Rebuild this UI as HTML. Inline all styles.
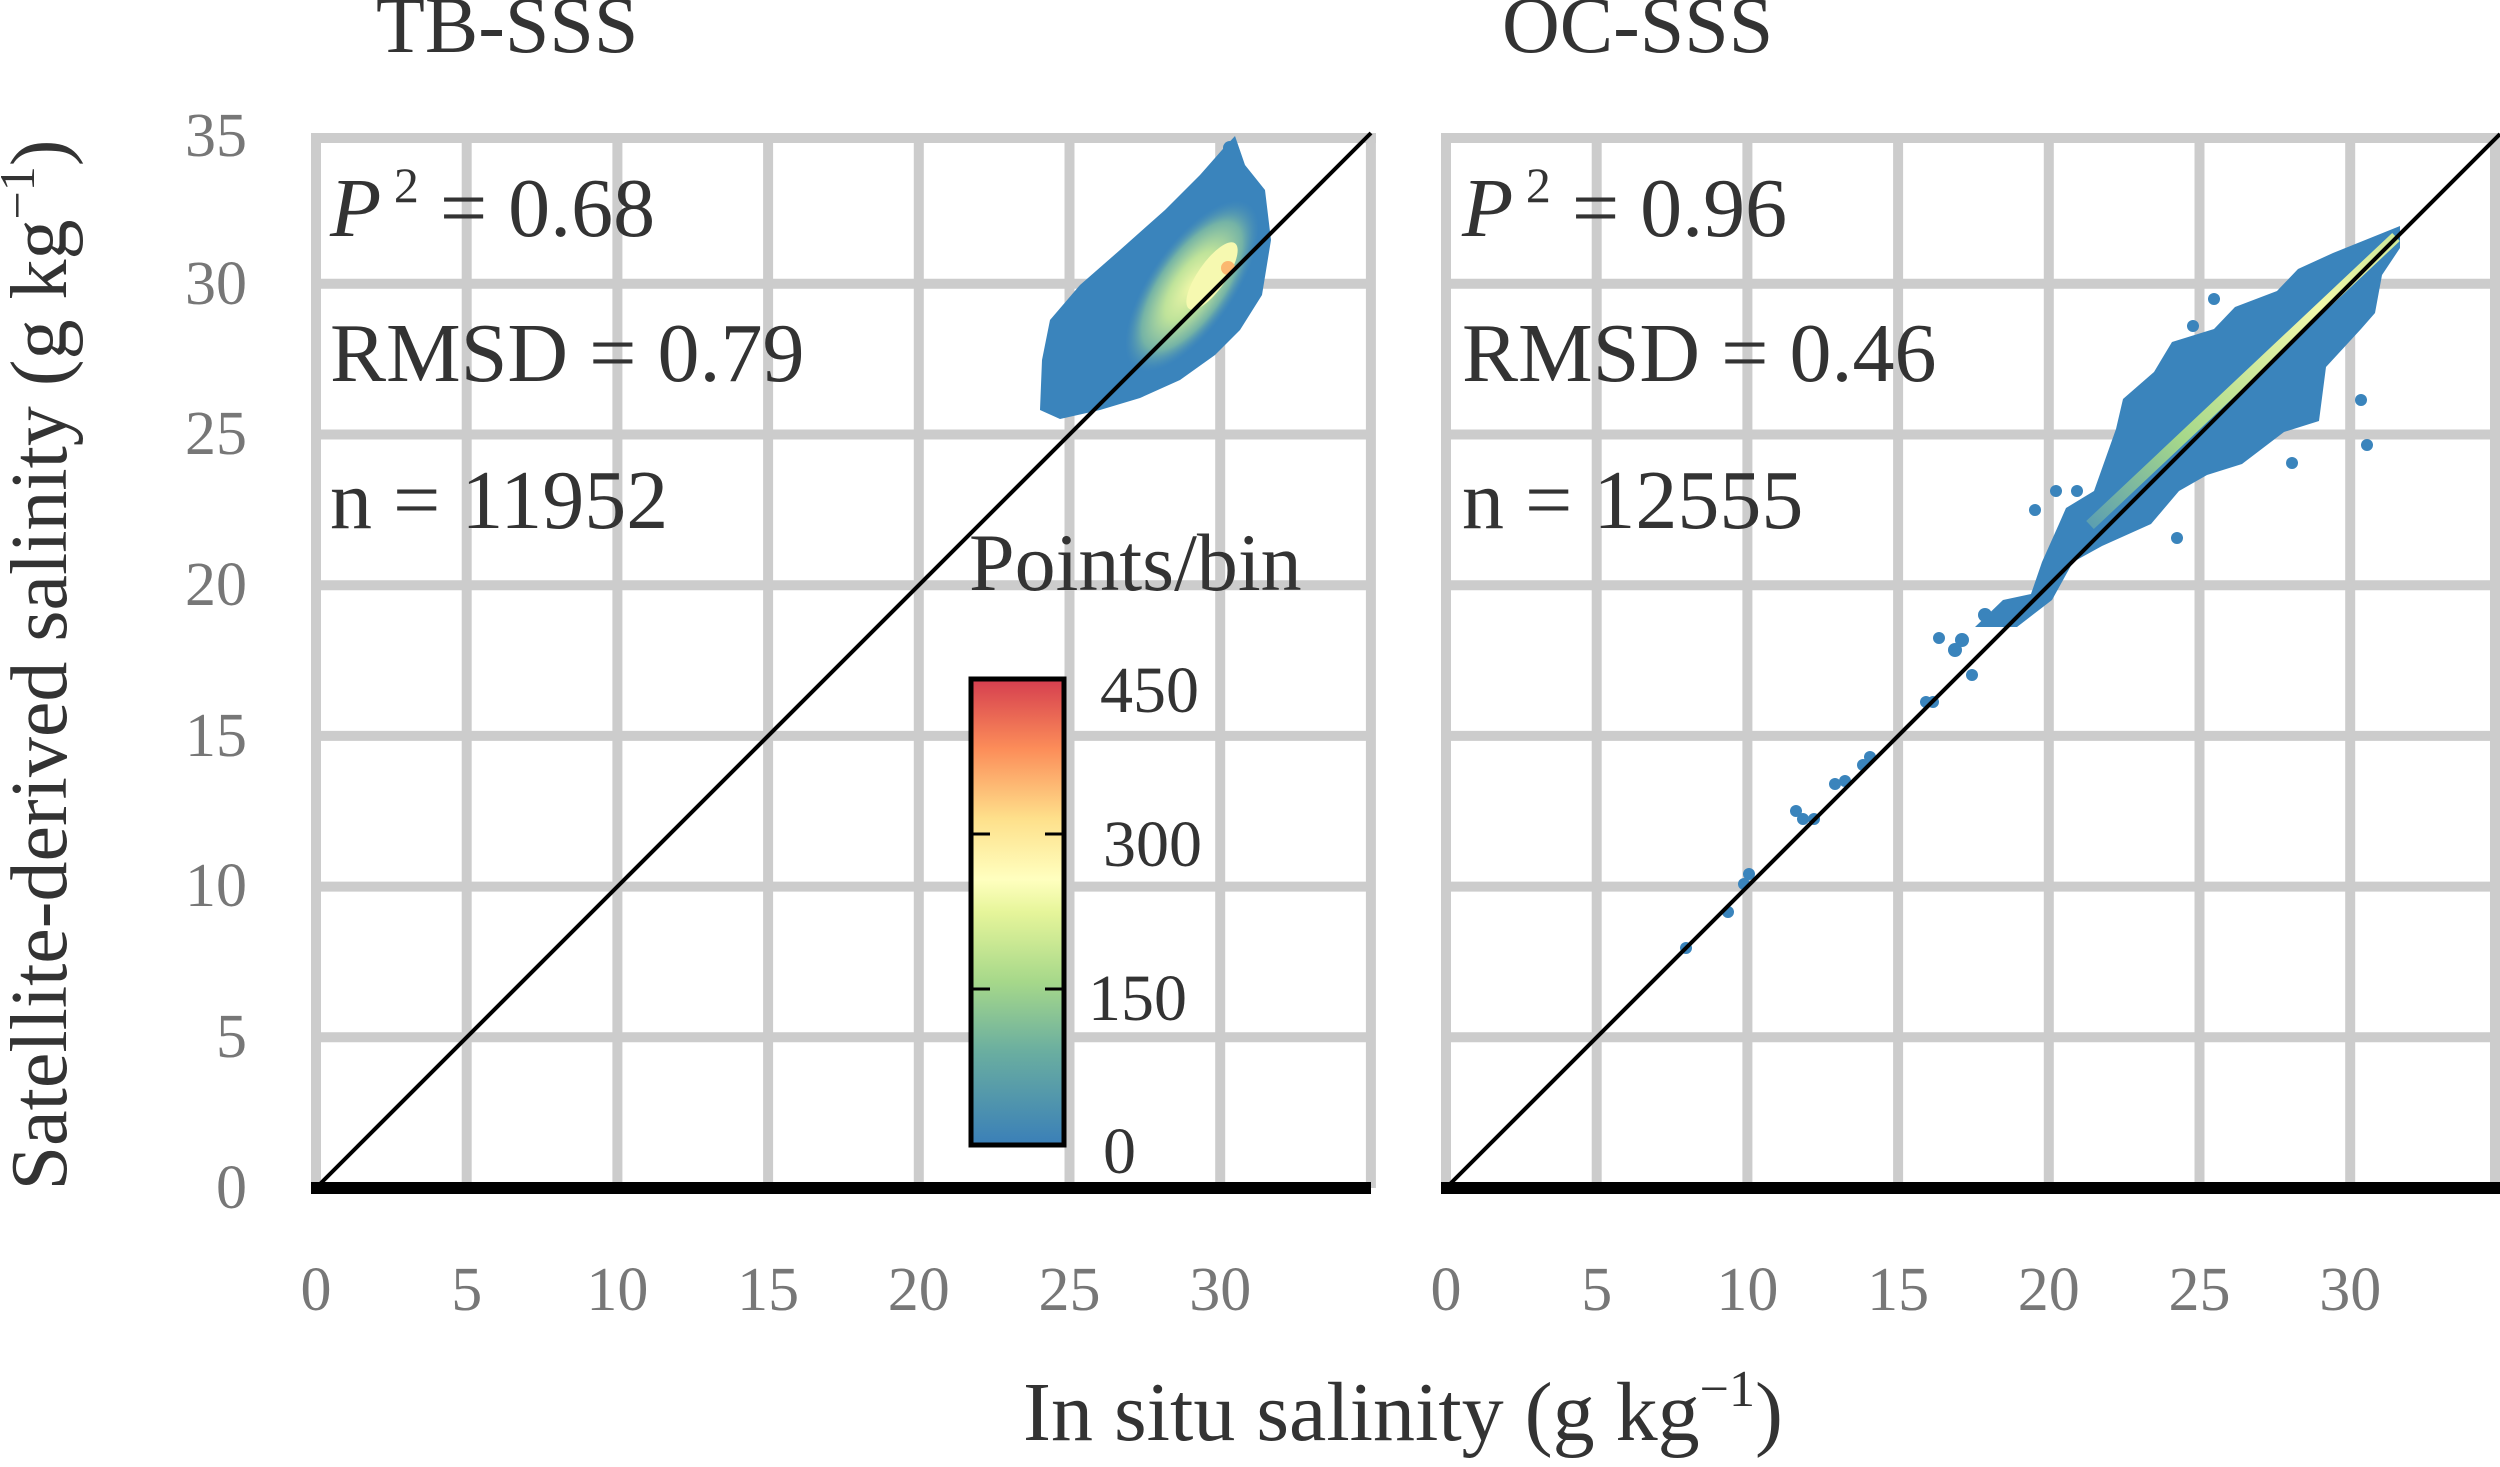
<!DOCTYPE html>
<html><head><meta charset="utf-8">
<style>
html,body{margin:0;padding:0;background:#fff;}
svg{display:block;}
text{font-family:"Liberation Serif",serif;}
</style></head>
<body>
<svg width="2500" height="1467" viewBox="0 0 2500 1467" xmlns="http://www.w3.org/2000/svg">
<defs>
<linearGradient id="cb" x1="0" y1="1" x2="0" y2="0">
<stop offset="0" stop-color="#3a7fb8"/>
<stop offset="0.2" stop-color="#6aaea0"/>
<stop offset="0.35" stop-color="#a6d88a"/>
<stop offset="0.5" stop-color="#e6f59a"/>
<stop offset="0.57" stop-color="#ffffbf"/>
<stop offset="0.7" stop-color="#fee08b"/>
<stop offset="0.85" stop-color="#fc8d59"/>
<stop offset="1" stop-color="#d53e4f"/>
</linearGradient>
<radialGradient id="lc" cx="0.5" cy="0.5" r="0.5">
<stop offset="0" stop-color="#f0f7a8"/>
<stop offset="0.4" stop-color="#bfe39a"/>
<stop offset="0.75" stop-color="#74b3a6"/>
<stop offset="1" stop-color="#4f93b5" stop-opacity="0"/>
</radialGradient>
<linearGradient id="rl" x1="0" y1="1" x2="1" y2="0">
<stop offset="0" stop-color="#5c9fb0"/>
<stop offset="0.3" stop-color="#a6d88a"/>
<stop offset="0.75" stop-color="#f2f8aa"/>
<stop offset="1" stop-color="#cfe89a"/>
</linearGradient>
</defs>
<g stroke="#ccc" stroke-width="10">
<line x1="316" y1="1188" x2="316" y2="133"/><line x1="466.7" y1="1188" x2="466.7" y2="133"/><line x1="617.4" y1="1188" x2="617.4" y2="133"/><line x1="768.1" y1="1188" x2="768.1" y2="133"/><line x1="918.8" y1="1188" x2="918.8" y2="133"/><line x1="1069.5" y1="1188" x2="1069.5" y2="133"/><line x1="1220.2" y1="1188" x2="1220.2" y2="133"/><line x1="1370.9" y1="1188" x2="1370.9" y2="133"/>
<line x1="311" y1="1037.3" x2="1371" y2="1037.3"/><line x1="311" y1="886.6" x2="1371" y2="886.6"/><line x1="311" y1="735.9" x2="1371" y2="735.9"/><line x1="311" y1="585.2" x2="1371" y2="585.2"/><line x1="311" y1="434.5" x2="1371" y2="434.5"/><line x1="311" y1="283.8" x2="1371" y2="283.8"/><line x1="311" y1="138" x2="1376" y2="138"/>
<line x1="1446" y1="1188" x2="1446" y2="133"/><line x1="1596.7" y1="1188" x2="1596.7" y2="133"/><line x1="1747.4" y1="1188" x2="1747.4" y2="133"/><line x1="1898.1" y1="1188" x2="1898.1" y2="133"/><line x1="2048.8" y1="1188" x2="2048.8" y2="133"/><line x1="2199.5" y1="1188" x2="2199.5" y2="133"/><line x1="2350.2" y1="1188" x2="2350.2" y2="133"/><line x1="2495" y1="1188" x2="2495" y2="133"/>
<line x1="1441" y1="1037.3" x2="2500" y2="1037.3"/><line x1="1441" y1="886.6" x2="2500" y2="886.6"/><line x1="1441" y1="735.9" x2="2500" y2="735.9"/><line x1="1441" y1="585.2" x2="2500" y2="585.2"/><line x1="1441" y1="434.5" x2="2500" y2="434.5"/><line x1="1441" y1="283.8" x2="2500" y2="283.8"/><line x1="1441" y1="138" x2="2500" y2="138"/>
</g>
<!-- left cluster -->
<path d="M1040,410 L1060,419 L1100,410 L1140,398 L1180,380 L1215,355 L1240,330 L1262,295 L1271,240 L1265,190 L1245,165 L1235,136 L1222,150 L1200,175 L1165,210 L1120,250 L1080,285 L1050,320 L1042,360 Z" fill="#3a84bc"/>
<circle cx="1230" cy="148" r="7" fill="#3a84bc"/>
<ellipse cx="1192" cy="286" rx="100" ry="42" transform="rotate(-55 1192 286)" fill="url(#lc)"/>
<ellipse cx="1212" cy="276" rx="40" ry="14" transform="rotate(-55 1212 276)" fill="#f6f9b0"/>
<circle cx="1228" cy="268" r="7" fill="#fbb870"/>
<!-- right cluster -->
<path d="M2400,226 L2333,253 L2298,269 L2277,291 L2235,307 L2214,329 L2172,342 L2154,372 L2123,399 L2116,429 L2094,491 L2066,508 L2059,524 L2042,562 L2031,594 L2003,600 L1975,627 L2017,627 L2052,600 L2073,562 L2102,546 L2151,524 L2179,491 L2207,475 L2242,464 L2284,432 L2319,421 L2326,367 L2361,329 L2375,313 L2382,275 L2400,248 Z" fill="#3a84bc"/>
<line x1="2090" y1="525" x2="2396" y2="237" stroke="url(#rl)" stroke-width="11"/>
<g fill="#3a84bc">
<circle cx="2035" cy="510" r="6"/><circle cx="2056" cy="491" r="6"/><circle cx="2077" cy="491" r="6"/><circle cx="2177" cy="538" r="6"/>
<circle cx="2214" cy="299" r="6"/><circle cx="2193" cy="326" r="6"/><circle cx="2361" cy="400" r="6"/><circle cx="2367" cy="445" r="6"/><circle cx="2292" cy="463" r="6"/>
<circle cx="1939" cy="638" r="6"/><circle cx="1972" cy="675" r="6"/><circle cx="1926" cy="702" r="6"/><circle cx="1933" cy="702" r="6"/>
<circle cx="1870" cy="757" r="6"/><circle cx="1863" cy="765" r="6"/><circle cx="1845" cy="781" r="6"/><circle cx="1835" cy="784" r="6"/>
<circle cx="1796" cy="811" r="6"/><circle cx="1803" cy="819" r="6"/><circle cx="1814" cy="819" r="6"/>
<circle cx="1749" cy="874" r="6"/><circle cx="1744" cy="884" r="6"/><circle cx="1728" cy="912" r="6"/><circle cx="1686" cy="948" r="6"/>
<circle cx="1955" cy="650" r="7"/><circle cx="1962" cy="640" r="7"/><circle cx="1985" cy="615" r="7"/>
</g>
<line x1="316" y1="1188" x2="1371" y2="133" stroke="#000" stroke-width="4"/>
<line x1="1446" y1="1188" x2="2500" y2="134" stroke="#000" stroke-width="4"/>
<line x1="311" y1="1188" x2="1371" y2="1188" stroke="#000" stroke-width="12"/>
<line x1="1441" y1="1188" x2="2500" y2="1188" stroke="#000" stroke-width="12"/>
<text x="376" y="52" font-size="80" fill="#333">TB-SSS</text>
<text x="1502" y="52" font-size="80" fill="#333">OC-SSS</text>
<g font-size="84" fill="#333">
<text x="330" y="236"><tspan font-style="italic">P</tspan><tspan font-size="50" dy="-34"> 2</tspan><tspan dy="34"> = 0.68</tspan></text>
<text x="330" y="381">RMSD = 0.79</text>
<text x="330" y="528">n = 11952</text>
<text x="1462" y="236"><tspan font-style="italic">P</tspan><tspan font-size="50" dy="-34"> 2</tspan><tspan dy="34"> = 0.96</tspan></text>
<text x="1462" y="381">RMSD = 0.46</text>
<text x="1462" y="528">n = 12555</text>
</g>
<text x="969" y="590" font-size="82" fill="#333">Points/bin</text>
<rect x="971" y="679" width="93" height="466" fill="url(#cb)" stroke="#000" stroke-width="5"/>
<g stroke="#000" stroke-width="3">
<line x1="973" y1="834" x2="990" y2="834"/><line x1="1045" y1="834" x2="1062" y2="834"/>
<line x1="973" y1="989" x2="990" y2="989"/><line x1="1045" y1="989" x2="1062" y2="989"/>
</g>
<g font-size="66" fill="#333">
<text x="1100" y="712">450</text>
<text x="1103" y="866">300</text>
<text x="1088" y="1020">150</text>
<text x="1103" y="1173">0</text>
</g>
<text transform="translate(66,665) rotate(-90)" text-anchor="middle" font-size="80" fill="#333">Satellite-derived salinity (g kg<tspan font-size="50" dy="-32">−1</tspan><tspan dy="32">)</tspan></text>
<text x="1403" y="1440" text-anchor="middle" font-size="84" fill="#333">In situ salinity (g kg<tspan font-size="52" dy="-34">−1</tspan><tspan dy="34">)</tspan></text>
<g font-size="62" fill="#777" text-anchor="end">
<text x="247" y="1208">0</text><text x="247" y="1057">5</text><text x="247" y="906">10</text><text x="247" y="756">15</text><text x="247" y="605">20</text><text x="247" y="454">25</text><text x="247" y="304">30</text><text x="247" y="156">35</text>
</g>
<g font-size="62" fill="#777" text-anchor="middle">
<text x="316" y="1310">0</text><text x="466.7" y="1310">5</text><text x="617.4" y="1310">10</text><text x="768.1" y="1310">15</text><text x="918.8" y="1310">20</text><text x="1069.5" y="1310">25</text><text x="1220.2" y="1310">30</text>
<text x="1446" y="1310">0</text><text x="1596.7" y="1310">5</text><text x="1747.4" y="1310">10</text><text x="1898.1" y="1310">15</text><text x="2048.8" y="1310">20</text><text x="2199.5" y="1310">25</text><text x="2350.2" y="1310">30</text>
</g>
</svg>
</body></html>
